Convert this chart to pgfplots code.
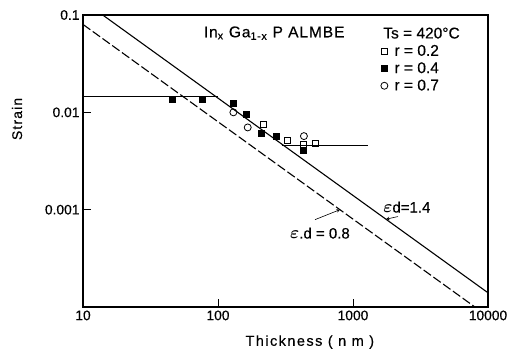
\documentclass[border=0pt]{standalone}
\usepackage{fontspec}
\setmainfont{Liberation Sans}[FakeBold=0.4]
\usepackage{pgfplots}
\pgfplotsset{compat=1.18}
\begin{document}
\begin{tikzpicture}
\useasboundingbox (-83pt,-47pt) rectangle (428pt,307pt);
\begin{axis}[
  at={(0pt,0pt)}, anchor=south west,
  scale only axis, width=405pt, height=292pt,
  xmode=log, ymode=log,
  xmin=10, xmax=10000, ymin=1e-4, ymax=0.1,
  xtick={10,100,1000,10000}, xticklabels={10,100,1000,10000},
  ytick={0.001,0.01,0.1}, yticklabels={0.001,0.01,0.1},
  xminorticks=false, yminorticks=false,
  tick align=inside, xtick pos=bottom, ytick pos=left,
  major tick length=8pt,
  tick style={line width=1pt, black},
  axis line style={line width=1.3pt},
  ticklabel style={font=\fontsize{13.8}{15}\selectfont},
  /pgf/number format/assume math mode=true,
  xlabel={Thickness ( n m )},
  ylabel={Strain},
  xlabel style={at={(axis description cs:0.56,-0.12)}, anchor=center, font=\fontsize{14.5}{16}\selectfont\addfontfeature{LetterSpace=10}},
  ylabel style={at={(axis description cs:-0.163,0.644)}, anchor=center, font=\fontsize{14}{16}\selectfont\addfontfeature{LetterSpace=8}},
  legend style={at={(0.735,0.905)}, anchor=north west, draw=none, fill=none,
    font=\fontsize{15.5}{17}\selectfont, row sep=1pt, inner sep=0pt},
  legend cell align=left,
  legend image code/.code={\draw[#1] plot coordinates {(0.1cm,0cm)}; \path[draw=none, fill=none] (0pt,0pt) -- (11pt,0pt);},
]
% lines
\addplot[black, line width=1.1pt, forget plot] coordinates {(14,0.1) (10000,0.00014)};
\addplot[black, line width=1.1pt, dash pattern=on 9pt off 3pt, forget plot] coordinates {(10,0.08) (8000,0.0001)};
\addplot[black, line width=1.1pt, forget plot] coordinates {(10,0.0146) (100,0.0146)};
\addplot[black, line width=1.3pt, forget plot] coordinates {(300,0.0046) (1300,0.0046)};
% data
\addplot[only marks, mark=square, mark size=3pt, mark options={fill=white, line width=0.8pt}] coordinates {
  (216,0.0075) (328,0.0052) (428,0.0047) (530,0.0048)};
\addlegendentry{r = 0.2}
\addplot[only marks, mark=square*, mark size=3pt, mark options={fill=black, line width=0.8pt}] coordinates {
  (46,0.0136) (77,0.0136) (129,0.0124) (163,0.0096) (211,0.0061) (272,0.0057) (428,0.0041)};
\addlegendentry{r = 0.4}
\addplot[only marks, mark=o, mark size=3.5pt, mark options={fill=white, line width=0.8pt}] coordinates {
  (130,0.0100) (166,0.0070) (433,0.0057)};
\addlegendentry{r = 0.7}
% texts
\node[font=\fontsize{15.5}{17}\selectfont\addfontfeature{LetterSpace=6}] at (rel axis cs:0.472,0.938) {In\textsubscript{x} Ga\textsubscript{1-x} P ALMBE};
\node[anchor=west, font=\fontsize{15.5}{17}\selectfont, inner sep=0pt] at (rel axis cs:0.741,0.938) {Ts = 420°C};
\node[anchor=west, font=\fontsize{15}{17}\selectfont, inner sep=0pt] at (rel axis cs:0.741,0.342) {{\LARGE\boldmath$\varepsilon$}d=1.4};
\draw[-stealth, line width=0.6pt] (axis cs:2154,0.00085) -- (axis cs:1754,0.000798);
\node[anchor=west, font=\fontsize{15}{17}\selectfont, inner sep=0pt] at (rel axis cs:0.511,0.253) {{\LARGE\boldmath$\varepsilon$}.d = 0.8};
\draw[-stealth, line width=0.6pt] (axis cs:523,0.00079) -- (axis cs:801,0.001);
\end{axis}
\end{tikzpicture}
\end{document}
